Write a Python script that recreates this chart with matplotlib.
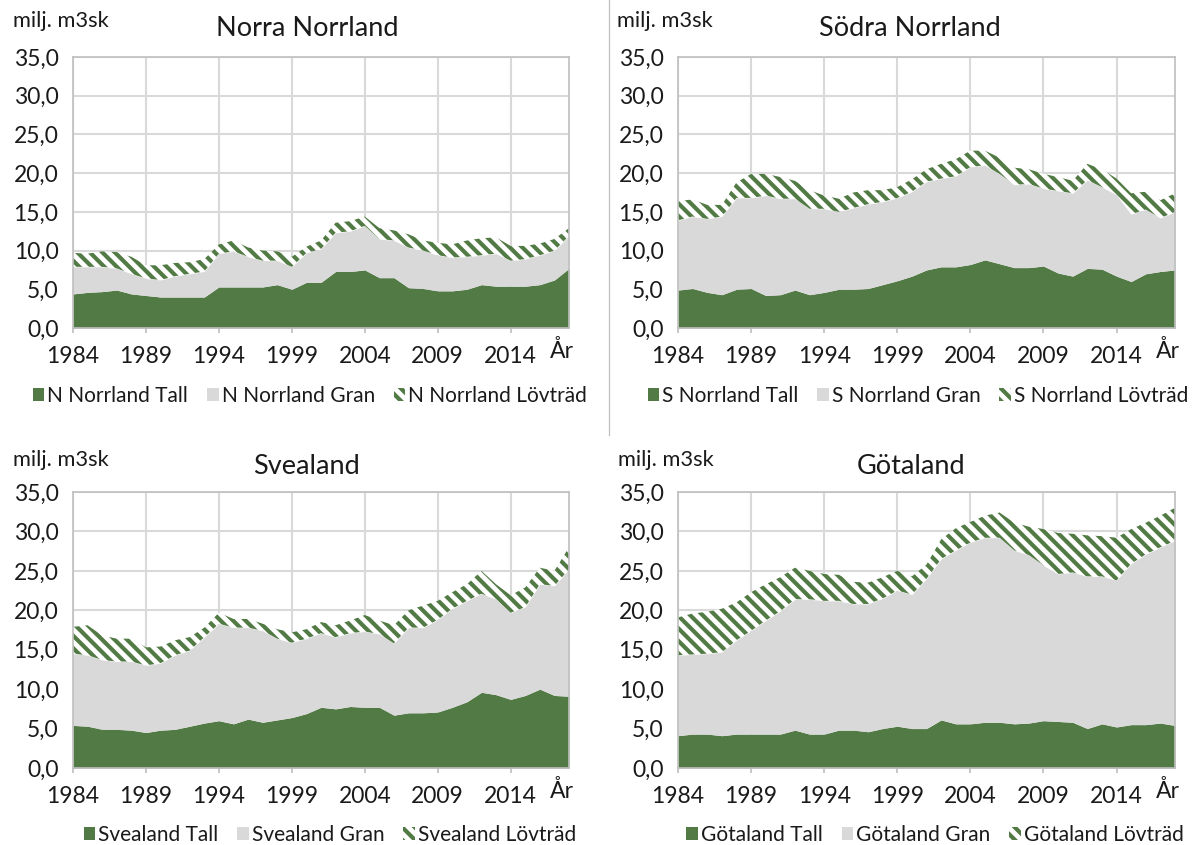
import matplotlib
matplotlib.use("Agg")
import matplotlib.pyplot as plt
from matplotlib.patches import Patch
from matplotlib.lines import Line2D
import numpy as np

plt.rcParams['font.family'] = ['Lato', 'DejaVu Sans']
plt.rcParams['hatch.linewidth'] = 2.0

GREEN = '#527a44'
GRAY = '#d9d9d9'
GRID = '#d9d9d9'
SPINE = '#bfbfbf'
TXT = '#1a1a1a'

years = list(range(1984, 2019))
xticks = list(range(1984, 2015, 5))
yticks = list(range(0, 36, 5))

# Norra Norrland
nn_tall = [4.4, 4.6, 4.7, 4.9, 4.4, 4.2, 4.0, 4.0, 4.0, 4.0, 5.3, 5.3, 5.3, 5.3, 5.6, 5.0, 5.9, 5.9,
           7.3, 7.3, 7.5, 6.5, 6.5, 5.2, 5.1, 4.8, 4.8, 5.0, 5.6, 5.4, 5.4, 5.4, 5.6, 6.2, 7.7]
nn_gran = [3.5, 3.3, 3.2, 2.8, 2.6, 2.2, 2.2, 2.7, 3.0, 3.3, 4.3, 4.6, 3.9, 3.4, 3.1, 2.9, 3.8, 4.3,
           5.0, 5.2, 5.7, 5.0, 4.8, 5.2, 4.9, 4.6, 4.3, 4.2, 3.8, 4.2, 3.3, 3.5, 3.8, 3.8, 4.2]
nn_lov = [1.8, 1.7, 2.0, 2.1, 2.2, 1.7, 1.9, 1.7, 1.5, 1.6, 1.2, 1.4, 1.2, 1.3, 1.2, 1.3, 0.8, 1.1,
          1.3, 1.3, 1.2, 1.4, 1.3, 1.7, 1.3, 1.6, 1.7, 2.1, 2.2, 2.1, 1.9, 1.7, 1.5, 1.5, 1.0]

# Södra Norrland
sn_tall = [4.9, 5.1, 4.6, 4.3, 5.0, 5.1, 4.2, 4.3, 4.9, 4.3, 4.6, 5.0, 5.0, 5.1, 5.6, 6.1, 6.7, 7.5,
           7.9, 7.9, 8.2, 8.8, 8.3, 7.8, 7.8, 8.0, 7.1, 6.7, 7.7, 7.6, 6.7, 6.0, 7.0, 7.3, 7.5]
sn_gran = [9.0, 9.3, 9.5, 10.1, 11.8, 11.7, 12.9, 12.4, 11.8, 11.1, 10.8, 10.0, 10.5, 10.9, 10.7, 10.7,
           10.9, 11.4, 11.4, 11.7, 12.6, 12.2, 11.6, 10.7, 10.8, 10.0, 10.6, 10.7, 11.4, 10.6, 10.5,
           8.7, 8.3, 6.9, 7.5]
sn_lov = [2.5, 2.2, 1.8, 1.5, 2.0, 3.1, 2.8, 2.8, 2.3, 2.4, 1.7, 1.7, 2.0, 1.8, 1.5, 1.4, 1.6, 1.6,
          1.9, 2.2, 2.1, 1.9, 2.1, 2.2, 1.9, 1.9, 1.8, 1.6, 2.1, 2.3, 2.1, 2.7, 2.3, 2.3, 2.4]

# Svealand
sv_tall = [5.4, 5.3, 4.9, 4.9, 4.8, 4.5, 4.8, 4.9, 5.3, 5.7, 6.0, 5.6, 6.2, 5.8, 6.1, 6.4, 6.9, 7.7,
           7.5, 7.8, 7.7, 7.7, 6.7, 7.0, 7.0, 7.1, 7.7, 8.4, 9.6, 9.3, 8.7, 9.2, 10.0, 9.2, 9.1]
sv_gran = [9.1, 9.0, 8.8, 8.6, 8.7, 8.5, 8.5, 9.4, 9.6, 10.9, 12.3, 12.2, 11.6, 11.6, 10.3, 9.5, 9.5,
           9.4, 9.1, 9.3, 9.6, 9.3, 9.1, 10.8, 10.8, 11.7, 12.5, 12.8, 12.5, 12.1, 11.0, 11.2, 13.3,
           13.9, 16.1]
sv_lov = [3.4, 3.8, 3.1, 2.9, 2.9, 2.3, 2.1, 1.9, 1.7, 1.2, 1.4, 1.1, 1.1, 0.9, 1.2, 1.3, 1.2, 1.4,
          1.5, 1.6, 2.1, 1.7, 2.3, 2.2, 2.8, 2.4, 2.1, 2.1, 2.9, 1.9, 2.2, 2.5, 2.1, 1.9, 2.8]

# Götaland
go_tall = [4.1, 4.3, 4.3, 4.1, 4.3, 4.3, 4.3, 4.3, 4.8, 4.3, 4.3, 4.8, 4.8, 4.6, 5.0, 5.3, 5.0, 5.0,
           6.1, 5.6, 5.6, 5.8, 5.8, 5.6, 5.7, 6.0, 5.9, 5.8, 5.0, 5.6, 5.2, 5.5, 5.5, 5.7, 5.4]
go_gran = [10.2, 10.1, 10.2, 10.6, 11.9, 13.1, 14.4, 15.6, 16.6, 17.1, 16.9, 16.4, 16.0, 16.2, 16.5,
           17.2, 17.0, 19.0, 20.4, 22.0, 23.0, 23.4, 23.4, 22.0, 21.3, 19.7, 18.7, 19.0, 19.3, 18.7,
           18.6, 20.4, 21.6, 22.3, 23.4]
go_lov = [4.8, 5.2, 5.3, 5.5, 4.8, 4.9, 4.6, 4.3, 4.0, 3.6, 3.4, 3.3, 2.8, 2.7, 2.7, 2.5, 2.3, 1.8,
          2.5, 2.8, 2.6, 2.8, 3.2, 3.5, 3.6, 4.6, 5.2, 4.9, 5.2, 5.1, 5.4, 4.4, 4.0, 4.0, 4.2]

W, H, DPI = 1203, 845, 150
fig = plt.figure(figsize=(W / DPI, H / DPI), dpi=DPI)
fig.patch.set_facecolor('white')

TICK_FS = 11
panels = [
    # title, legend prefix, data, plot box (l, t, r, b) px, title centre, unit label pos, legend centre px
    ("Norra Norrland", "N Norrland", nn_tall, nn_gran, nn_lov, (73, 57, 569, 328), (307, 28), (13, 21), (310, 396)),
    ("Södra Norrland", "S Norrland", sn_tall, sn_gran, sn_lov, (678, 57, 1175, 328), (910, 28), (617, 21), (918, 396)),
    ("Svealand", "Svealand", sv_tall, sv_gran, sv_lov, (73, 492, 569, 768), (306, 467), (13, 460), (330, 835)),
    ("Götaland", "Götaland", go_tall, go_gran, go_lov, (678, 492, 1175, 768), (911, 467), (618, 460), (935, 835)),
]

for title, prefix, tall, gran, lov, box, tpos, upos, lpos in panels:
    l, t, r, b = box
    ax = fig.add_axes([l / W, 1 - b / H, (r - l) / W, (b - t) / H])
    y1 = np.array(tall)
    y2 = y1 + np.array(gran)
    y3 = y2 + np.array(lov)
    ax.fill_between(years, 0, y1, color=GREEN, lw=0, zorder=2)
    ax.fill_between(years, y1, y2, color=GRAY, lw=0, zorder=2)
    ax.fill_between(years, y2, y3, facecolor='white', edgecolor=GREEN, hatch='\\\\\\\\', lw=0, zorder=2)

    ax.set_xlim(years[0], years[-1])
    ax.set_ylim(0, 35)
    ax.set_xticks(xticks)
    ax.set_xticklabels([str(v) for v in xticks])
    ax.set_yticks(yticks)
    ax.set_yticklabels([f"{v:.1f}".replace('.', ',') for v in yticks])
    ax.grid(True, color=GRID, lw=1.0, zorder=0)
    ax.set_axisbelow(True)
    for s in ax.spines.values():
        s.set_color(SPINE)
        s.set_linewidth(0.8)
    ax.tick_params(axis='x', length=2.4, width=0.8, color=SPINE, pad=6, labelsize=TICK_FS, labelcolor=TXT)
    ax.tick_params(axis='y', length=0, pad=7, labelsize=TICK_FS, labelcolor=TXT)

    ax.text(0.985, -0.085, "År", transform=ax.transAxes, ha='center', va='center',
            fontsize=TICK_FS, color=TXT)

    fig.text(tpos[0] / W, 1 - tpos[1] / H, title, ha='center', va='center', fontsize=13, color=TXT)
    fig.text(upos[0] / W, 1 - upos[1] / H, "milj. m3sk", ha='left', va='center', fontsize=10.5, color=TXT)

    handles = [Patch(facecolor=GREEN, lw=0),
               Patch(facecolor=GRAY, lw=0),
               Patch(facecolor='white', edgecolor=GREEN, hatch='\\\\\\\\', lw=0)]
    labels = [f"{prefix} Tall", f"{prefix} Gran", f"{prefix} Lövträd"]
    ax.legend(handles, labels, loc='center', ncol=3, frameon=False,
              bbox_to_anchor=((lpos[0] - l) / (r - l), (b - lpos[1]) / (b - t)),
              fontsize=10, handlelength=0.55, handleheight=0.6, handletextpad=0.15,
              columnspacing=0.9, borderpad=0, labelcolor=TXT)

# thin divider between the two upper charts
fig.add_artist(Line2D([609 / W, 609 / W], [1.0, 1 - 435 / H], color=SPINE, lw=0.6))

fig.savefig("out.png", dpi=DPI)
